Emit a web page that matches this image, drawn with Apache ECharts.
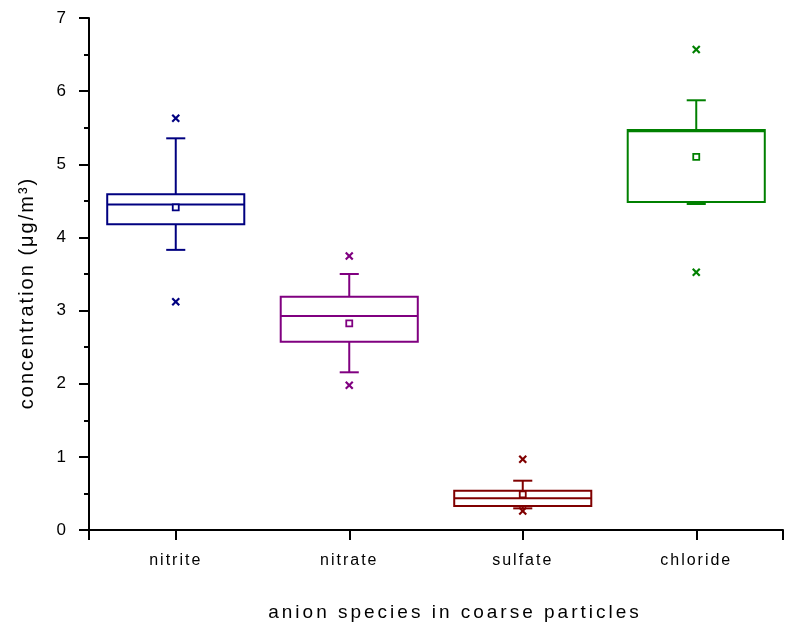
<!DOCTYPE html>
<html><head><meta charset="utf-8">
<script src="https://cdn.jsdelivr.net/npm/echarts@6/dist/echarts.min.js"></script>
<style>html,body{margin:0;padding:0;background:#fff}#c{width:791px;height:628px}</style>
</head><body><div id="c"></div>
<script>
const categories = ['nitrite', 'nitrate', 'sulfate', 'chloride'];
const colors = ['#000080', '#800080', '#800000', '#008000'];
// [whiskerLow, Q1, median, Q3, whiskerHigh]
const boxStats = [
  [3.83, 4.18, 4.45, 4.59, 5.355],
  [2.156, 2.575, 2.926, 3.19, 3.50],
  [0.296, 0.328, 0.433, 0.537, 0.674],
  [4.457, 4.485, 5.45, 5.469, 5.875]
];
const means = [4.41, 2.826, 0.488, 5.10];
const extremeMin = [3.12, 1.98, 0.26, 3.523];
const extremeMax = [5.63, 3.746, 0.966, 6.57];
const yTicks = [0, 1, 2, 3, 4, 5, 6, 7];
const xTitle = 'anion species in coarse particles';
const yTitle = 'concentration (μg/m³)';

// letter spacing for the spaced-out axis texts (rendering style only)
const spacing = {};
categories.forEach(c => spacing[c] = '2px');
spacing[xTitle] = '3px';
spacing[yTitle] = '2px';
const origFill = CanvasRenderingContext2D.prototype.fillText;
CanvasRenderingContext2D.prototype.fillText = function (t, x, y, w) {
  const sp = spacing[t];
  if (sp && 'letterSpacing' in this) {
    const prev = this.letterSpacing;
    this.letterSpacing = sp;
    w === undefined ? origFill.call(this, t, x, y) : origFill.call(this, t, x, y, w);
    this.letterSpacing = prev;
  } else {
    w === undefined ? origFill.call(this, t, x, y) : origFill.call(this, t, x, y, w);
  }
};

const data = categories.map((c, i) => [i + 1, ...boxStats[i], means[i], extremeMin[i], extremeMax[i]]);

const chart = echarts.init(document.getElementById('c'));
chart.setOption({
  animation: false,
  grid: {left: 89, right: 8, top: 18, bottom: 98},
  xAxis: {
    type: 'value', min: 0.5, max: 4.5,
    splitLine: {show: false},
    axisLine: {show: true, onZero: false, lineStyle: {color: '#000', width: 2}},
    axisTick: {show: true, inside: false, length: 10, lineStyle: {color: '#000', width: 2}, customValues: [0.5, 1, 2, 3, 4, 4.5]},
    axisLabel: {customValues: [1, 2, 3, 4], formatter: v => categories[Math.round(v) - 1] || '', color: '#000', fontFamily: 'Liberation Sans, Arial', fontSize: 16, margin: 23},
    name: xTitle, nameLocation: 'middle', nameGap: 73,
    nameTextStyle: {color: '#000', fontFamily: 'Liberation Sans, Arial', fontSize: 19, padding: [0, 0, 0, 38]}
  },
  yAxis: {
    type: 'value', min: 0, max: 7, interval: 1,
    splitLine: {show: false},
    axisLine: {show: true, lineStyle: {color: '#000', width: 2}},
    axisTick: {show: true, length: 10, lineStyle: {color: '#000', width: 2}},
    minorTick: {show: true, splitNumber: 2, length: 5, lineStyle: {color: '#000', width: 2}},
    axisLabel: {color: '#000', fontFamily: 'Liberation Sans, Arial', fontSize: 17, margin: 21, formatter: v => yTicks.includes(v) ? String(v) : ''},
    name: yTitle, nameLocation: 'middle', nameGap: 52, nameRotate: 90,
    nameTextStyle: {color: '#000', fontFamily: 'Liberation Sans, Arial', fontSize: 20, padding: [0, 38, 0, 0]}
  },
  series: [{
    type: 'custom',
    data: data,
    encode: {x: 0, y: [1, 2, 3, 4, 5, 6, 7, 8]},
    renderItem: function (params, api) {
      const i = params.dataIndex;
      const x = api.value(0);
      const col = colors[i];
      const band = api.size([1, 0])[0];
      const hw = band * 0.395;
      const cw = band * 0.055;
      const p = k => api.coord([x, api.value(k)]);
      const cx = p(1)[0];
      const yLo = p(1)[1], yQ1 = p(2)[1], yMed = p(3)[1], yQ3 = p(4)[1], yHi = p(5)[1], yMean = p(6)[1], yMin = p(7)[1], yMax = p(8)[1];
      const ls = {stroke: col, lineWidth: 2, fill: null};
      const m = 3.5;
      const cross = (y) => ({type: 'group', children: [
        {type: 'line', shape: {x1: cx - m, y1: y - m, x2: cx + m, y2: y + m}, style: {stroke: col, lineWidth: 2.2}},
        {type: 'line', shape: {x1: cx - m, y1: y + m, x2: cx + m, y2: y - m}, style: {stroke: col, lineWidth: 2.2}}
      ]});
      return {type: 'group', children: [
        {type: 'line', shape: {x1: cx, y1: yQ3, x2: cx, y2: yHi}, style: ls},
        {type: 'line', shape: {x1: cx, y1: yQ1, x2: cx, y2: yLo}, style: ls},
        {type: 'line', shape: {x1: cx - cw, y1: yHi, x2: cx + cw, y2: yHi}, style: ls},
        {type: 'line', shape: {x1: cx - cw, y1: yLo, x2: cx + cw, y2: yLo}, style: ls},
        {type: 'rect', shape: {x: cx - hw, y: yQ3, width: 2 * hw, height: yQ1 - yQ3}, style: {stroke: col, lineWidth: 2, fill: 'rgba(0,0,0,0)'}},
        {type: 'line', shape: {x1: cx - hw, y1: yMed, x2: cx + hw, y2: yMed}, style: ls},
        {type: 'rect', shape: {x: cx - 3, y: yMean - 3, width: 6, height: 6}, style: {stroke: col, lineWidth: 1.8, fill: '#fff'}},
        cross(yMin),
        cross(yMax)
      ]};
    }
  }]
});
</script></body></html>
